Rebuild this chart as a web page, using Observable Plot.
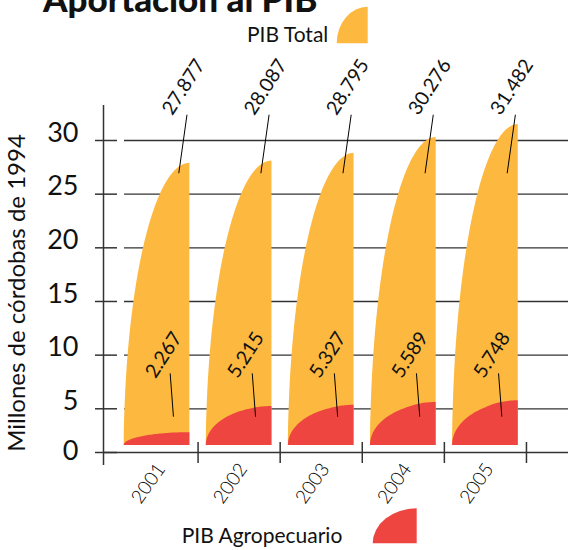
<!DOCTYPE html>
<html><head><meta charset="utf-8">
<script src="https://cdn.jsdelivr.net/npm/d3@7"></script>
<script src="https://cdn.jsdelivr.net/npm/@observablehq/plot@0.6"></script>
<style>
body{margin:0;background:#fff;}
#wrap{position:relative;width:568px;height:550px;overflow:hidden;font-family:Lato,"Open Sans",sans-serif;}
#wrap > svg{position:absolute;left:0;top:0;}
</style></head><body><div id="wrap"></div>
<script>
// ---- data ----
const years = [2001, 2002, 2003, 2004, 2005];
const pibTotal = [27.877, 28.087, 28.795, 30.276, 31.482];
const pibAgro = [2.267, 5.215, 5.327, 5.589, 5.748];
const yTicks = [0, 5, 10, 15, 20, 25, 30];
const yLabel = "Millones de córdobas de 1994";
const title = "Aportación al PIB";
const seriesNames = ["PIB Total", "PIB Agropecuario"];

// ---- style ----
const ORANGE = "#FDB83F", RED = "#EE4541", INK = "#111", AX = "#333";
const FONT = "Lato, 'Open Sans', sans-serif";
const base = 0.8;      // shapes sit slightly above the axis line
const halfW = 0.40;    // half width of each quarter-ellipse, in years
const xDomain = [2000.348, 2006.012];

function quarter(year, value, series) {
  const pts = [];
  const n = 60;
  for (let i = 0; i <= n; i++) {
    const t = (i / n) * Math.PI / 2;
    pts.push({year, series,
      x: year + halfW - 2 * halfW * Math.cos(t),
      y: base + (value - base) * Math.sin(t)});
  }
  return pts;
}
const totalShapes = years.flatMap((y, i) => quarter(y, pibTotal[i], "total"));
const agroShapes = years.flatMap((y, i) => quarter(y, pibAgro[i], "agro"));
const rows = years.map((y, i) => ({year: y, total: pibTotal[i], agro: pibAgro[i]}));
const fmt = v => v.toFixed(3);

const topY1 = 32.4, topY2 = 26.95;   // leader line ends for the total labels
const lowY1 = 8.3, lowY2 = 4.1;      // leader line ends for the agro labels

const plot = Plot.plot({
  width: 568, height: 550,
  marginLeft: 103, marginRight: 0, marginTop: 105, marginBottom: 85,
  x: {type: "linear", domain: xDomain, axis: null},
  y: {type: "linear", domain: [0, 5, 30], range: [452, 408.3, 140], axis: null},
  style: {fontFamily: FONT, color: INK, background: "transparent", overflow: "visible"},
  marks: [
    Plot.ruleY(yTicks.slice(1), {y: d => d, stroke: AX, strokeWidth: 1.3, insetLeft: 21}),
    Plot.areaY(totalShapes, {x: "x", y1: base, y2: "y", z: "year", fill: ORANGE, curve: "linear"}),
    Plot.areaY(agroShapes, {x: "x", y1: base, y2: "y", z: "year", fill: RED, curve: "linear"}),
    Plot.ruleY([0], {y: d => d, stroke: AX, strokeWidth: 1.5}),
    Plot.ruleX([xDomain[0]], {x: d => d, stroke: AX, strokeWidth: 1.5}),
    // y ticks crossing the axis
    Plot.ruleY(yTicks, {y: d => d, insetLeft: -8, insetRight: 568 - 103 - 14, stroke: AX, strokeWidth: 1.5}),
    Plot.text(yTicks.filter(d => d > 0), {y: d => d, text: d => String(d), frameAnchor: "left",
      textAnchor: "end", dx: -25, dy: -7.5, fontSize: 27, fill: INK}),
    Plot.text(yTicks.filter(d => d === 0), {y: d => d, text: d => String(d), frameAnchor: "left",
      textAnchor: "end", dx: -25, dy: -1, fontSize: 27, fill: INK}),
    // category separators
    Plot.tickX(years, {x: d => d + 0.5, insetTop: 337, insetBottom: 2, stroke: AX, strokeWidth: 1.5}),
    Plot.text(years, {x: d => d, frameAnchor: "bottom", text: d => String(d), rotate: -55,
      textAnchor: "end", dx: 9, dy: 3.5, fontSize: 19, fontWeight: 300, fill: "#000"}),
    Plot.link(rows, {x1: d => d.year + 0.365, y1: topY1, x2: d => d.year + 0.265, y2: topY2, stroke: "#000", strokeWidth: 1}),
    Plot.link(rows, {x1: d => d.year + 0.16, y1: lowY1, x2: d => d.year + 0.20, y2: lowY2, stroke: "#000", strokeWidth: 1}),
    Plot.text(rows, {x: d => d.year + 0.365, y: topY1, text: d => fmt(d.total), rotate: -57,
      textAnchor: "start", dx: -20, dy: -2, fontSize: 19.5, fill: INK}),
    Plot.text(rows, {x: d => d.year + 0.16, y: lowY1, text: d => fmt(d.agro), rotate: -57,
      textAnchor: "start", dx: -20, dy: 2.5, fontSize: 19.5, fill: INK}),
    Plot.text([yLabel], {frameAnchor: "left", text: d => d, rotate: -90, textAnchor: "middle",
      dx: -86, dy: 7.5, fontSize: 24, fill: INK})
  ]
});
document.getElementById("wrap").appendChild(plot);

// ---- title and legend ----
const ov = d3.create("svg").attr("width", 568).attr("height", 550)
  .style("font-family", FONT).style("pointer-events", "none");
ov.append("text").attr("x", 43).attr("y", 12).attr("font-size", 35).attr("font-weight", 900)
  .attr("fill", INK).text(title);
function qshape(x0, y0, x1, y1, fill) {
  ov.append("path").attr("fill", fill)
    .attr("d", `M${x0},${y1} A${x1 - x0},${y1 - y0} 0 0 1 ${x1},${y0} L${x1},${y1} Z`);
}
ov.append("text").attr("x", 247).attr("y", 41.7).attr("font-size", 21).attr("fill", INK).text(seriesNames[0]);
qshape(336.7, 6.7, 367.7, 43.3, ORANGE);
ov.append("text").attr("x", 181.7).attr("y", 543.3).attr("font-size", 21).attr("fill", INK).text(seriesNames[1]);
qshape(372.7, 508.3, 416.7, 543.3, RED);
document.getElementById("wrap").appendChild(ov.node());
</script></body></html>
